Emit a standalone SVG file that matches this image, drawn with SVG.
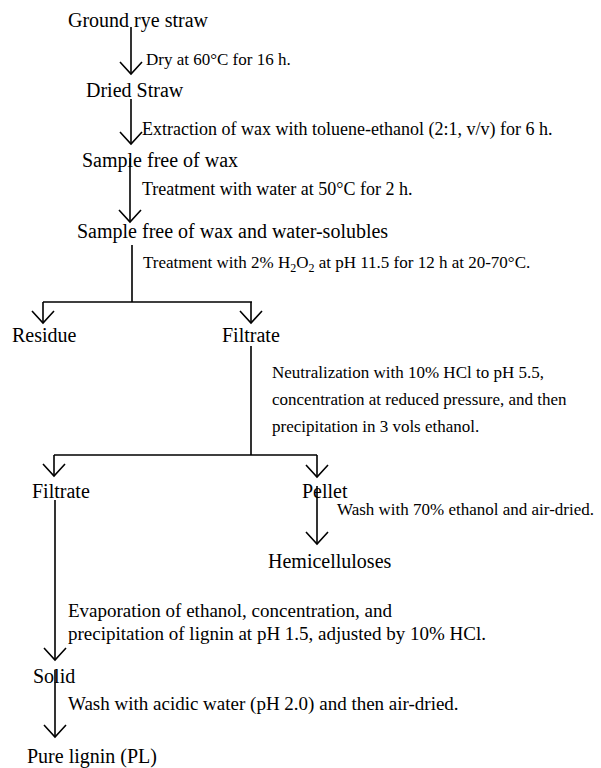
<svg xmlns="http://www.w3.org/2000/svg" width="601" height="768" viewBox="0 0 601 768">
<style>
.n{font-family:"Liberation Serif","Times New Roman",serif;font-size:20px;fill:#000}
.a{font-family:"Liberation Serif","Times New Roman",serif;font-size:17px;fill:#000}
.b{font-size:18px}
.d{font-size:19px}
.c{fill:none;stroke:#000;stroke-width:1.6}
</style>
<defs>
<marker id="v" markerUnits="userSpaceOnUse" orient="auto" refX="0" refY="0" markerWidth="30" markerHeight="30" viewBox="-15 -15 30 30" overflow="visible">
<path d="M-12,-11 L0,0 L-12,11" fill="none" stroke="#000" stroke-width="1.6"/>
</marker>
</defs>
<rect width="601" height="768" fill="#fff"/>
<g id="connectors">
<path class="c" d="M131,27 V74" marker-end="url(#v)"/>
<path class="c" d="M131,99 V144" marker-end="url(#v)"/>
<path class="c" d="M130,158 V222" marker-end="url(#v)"/>
<path class="c" d="M132,245 V302 M43,302 H252"/>
<path class="c" d="M43,302 V323" marker-end="url(#v)"/>
<path class="c" d="M251,302 V323" marker-end="url(#v)"/>
<path class="c" d="M251,346 V455 M54,455 H317"/>
<path class="c" d="M54,455 V476" marker-end="url(#v)"/>
<path class="c" d="M317,455 V477" marker-end="url(#v)"/>
<path class="c" d="M317,486 V544" marker-end="url(#v)"/>
<path class="c" d="M55,500 V660" marker-end="url(#v)"/>
<path class="c" d="M55,670 V737" marker-end="url(#v)"/>
</g>
<g id="labels">
<text class="a" x="146" y="65" font-size="16">Dry at 60°C for 16 h.</text>
<text class="a b" x="142" y="135">Extraction of wax with toluene-ethanol (2:1, v/v) for 6 h.</text>
<text class="a b" x="142" y="195">Treatment with water at 50°C for 2 h.</text>
<text class="a" x="143" y="268">Treatment with 2% H<tspan font-size="12" dy="4">2</tspan><tspan dy="-4">O</tspan><tspan font-size="12" dy="4">2</tspan><tspan dy="-4"> at pH 11.5 for 12 h at 20-70°C.</tspan></text>
<text class="a" x="272" y="378">Neutralization with 10% HCl to pH 5.5,</text>
<text class="a" x="272" y="405">concentration at reduced pressure, and then</text>
<text class="a" x="272" y="432">precipitation in 3 vols ethanol.</text>
<text class="a" x="337" y="515">Wash with 70% ethanol and air-dried.</text>
<text class="a d" x="68" y="617">Evaporation of ethanol, concentration, and</text>
<text class="a d" x="68" y="640">precipitation of lignin at pH 1.5, adjusted by 10% HCl.</text>
<text class="a d" x="68" y="710">Wash with acidic water (pH 2.0) and then air-dried.</text>
</g>
<g id="ground-rye-straw"><text class="n" x="68" y="27">Ground rye straw</text></g>
<g id="dried-straw"><text class="n" x="86" y="97">Dried Straw</text></g>
<g id="sample-free-of-wax"><text class="n" x="82" y="167">Sample free of wax</text></g>
<g id="sample-free-of-wax-and-water-solubles"><text class="n" x="77" y="238">Sample free of wax and water-solubles</text></g>
<g id="residue"><text class="n" x="12" y="342">Residue</text></g>
<g id="filtrate-1"><text class="n" x="222" y="342">Filtrate</text></g>
<g id="filtrate-2"><text class="n" x="32" y="498">Filtrate</text></g>
<g id="pellet"><text class="n" x="302" y="498">Pellet</text></g>
<g id="hemicelluloses"><text class="n" x="268" y="568">Hemicelluloses</text></g>
<g id="solid"><text class="n" x="33" y="683">Solid</text></g>
<g id="pure-lignin"><text class="n" x="27" y="763">Pure lignin (PL)</text></g>
</svg>
